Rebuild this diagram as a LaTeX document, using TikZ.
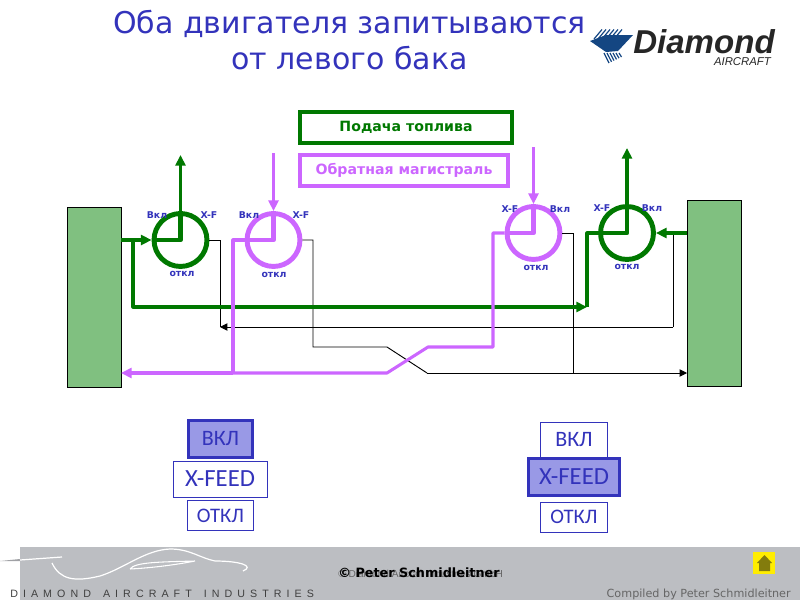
\documentclass[tikz,border=0pt]{standalone}
\usepackage{fontspec}
\setmainfont{DejaVu Sans}
\newfontfamily\carlito{Carlito}
\newfontfamily\logofont{Liberation Sans}
\newfontfamily\brandfont[LetterSpace=47.5]{Liberation Sans}
\usetikzlibrary{arrows.meta}
\definecolor{fuelgreen}{RGB}{0,120,0}
\definecolor{returnviolet}{RGB}{204,102,255}
\definecolor{titleblue}{RGB}{51,51,187}
\definecolor{tankgreen}{RGB}{128,192,128}
\definecolor{activeblue}{RGB}{153,153,230}
\definecolor{footgray}{RGB}{188,190,194}
\definecolor{logoblue}{RGB}{20,70,130}
\tikzset{
    fuelline/.style={draw=fuelgreen, line width=2.3pt, line join=round},
    fuelcore/.style={draw=fuelgreen, line width=3.6pt, line join=round},
    returnline/.style={draw=returnviolet, line width=2.3pt, line join=round},
    returncore/.style={draw=returnviolet, line width=3.6pt, line join=round},
    senseline/.style={draw=black, line width=0.7pt},
    tank/.style={draw=black, fill=tankgreen, line width=0.7pt, minimum width=40.5pt, inner sep=0pt},
    valve/.style={circle, line width=3.7pt, minimum size=39.7pt, inner sep=0pt},
    valvetext/.style={font=\bfseries\fontsize{7}{8}\selectfont, text=titleblue, inner sep=0pt},
    legend/.style={line width=3.2pt, font=\bfseries\fontsize{10.6}{12}\selectfont, inner sep=0pt, minimum height=23pt},
    switchbox/.style={draw=titleblue, line width=0.6pt, fill=white, font=\carlito\fontsize{16.5}{18}\selectfont, text=titleblue, inner sep=0pt},
    switchon/.style={line width=2.4pt, fill=activeblue},
    tip/.style={-{Triangle[length=8pt,width=7.5pt]}},
    thintip/.style={-{Triangle[length=5.5pt,width=5.5pt]}}
}
\begin{document}
\begin{tikzpicture}[x=0.75pt, y=-0.75pt]
    \useasboundingbox (0, 0) rectangle (800, 600);
    % Title and logo:
    \node[text=titleblue, font=\fontsize{22.5}{27.5}\selectfont, align=center] (title) at (349.5, 40) {Оба двигателя запитываются\\от левого бака};
    \fill[logoblue] (590, 41) -- (606, 35) -- (633, 35) -- (618, 51) -- (606, 52) -- cycle;
    \foreach \i in {0, 1, 2, 3, 4, 5} {
        \draw[logoblue, line width=0.9pt] (594+\i*4, 39) -- (602+\i*4, 29.5);
        \draw[logoblue, line width=0.9pt] (604+\i*3, 53) -- (609+\i*2.5, 63-\i*1.2);
    }
    \node[anchor=west, inner sep=0pt, font=\logofont\bfseries\itshape\fontsize{24.8}{26}\selectfont, text=black!85] (logomain) at (633, 42) {Diamond};
    \node[anchor=east, inner sep=0pt, font=\logofont\itshape\fontsize{8.5}{9}\selectfont, text=black!85] (logosub) at (771, 61.5) {AIRCRAFT};
    % Legend:
    \node[legend, draw=fuelgreen, text=fuelgreen, minimum width=159pt] (supply) at (406, 127.5) {Подача топлива};
    \node[legend, draw=returnviolet, text=returnviolet, minimum width=156pt] (return) at (404, 170.5) {Обратная магистраль};
    % Tanks:
    \node[tank, minimum height=135pt] (lefttank) at (94, 297) {};
    \node[tank, minimum height=140pt] (righttank) at (714, 293.5) {};
    % Free ends and corners:
    \coordinate (feedA) at (121, 240);
    \coordinate (teeA) at (133, 240);
    \coordinate (feedD) at (687, 233);
    \coordinate (crossfeed) at (587, 307);
    \coordinate (outA) at (180.5, 155);
    \coordinate (outD) at (627, 148);
    \coordinate (inB) at (273.5, 153);
    \coordinate (inC) at (533.5, 147);
    \coordinate (teeB) at (233, 373);
    \coordinate (retleft) at (121, 373);
    \coordinate (retright) at (687, 373);
    % Valves:
    \node[valve, draw=fuelgreen] (valveA) at (180.5, 240) {};
    \node[valve, draw=returnviolet] (valveB) at (273.5, 240) {};
    \node[valve, draw=returnviolet] (valveC) at (533.5, 233) {};
    \node[valve, draw=fuelgreen] (valveD) at (627, 233) {};
    % Lines back to the tanks:
    \draw[senseline] (valveA.east) -- (220, 240) -- (220, 327);
    \draw[senseline] (673, 233) -- (673, 327);
    \draw[senseline, thintip] (673, 327) -- (220, 327);
    \draw[senseline] (valveB.east) -- (313, 240) -- (313, 347) -- (387, 347) -- (427, 373);
    \draw[senseline, thintip] (427, 373) -- (retright);
    \draw[senseline] (valveC.east) -- (573, 233) -- (573, 373);
    % Fuel supply:
    \draw[fuelline, tip] (feedA) -- (valveA.west);
    \draw[fuelcore] (valveA.west) -- (valveA.center) -- (valveA.north);
    \draw[fuelline, tip] (valveA.north) -- (outA);
    \draw[fuelline, tip] (teeA) |- (crossfeed);
    \draw[fuelline] (crossfeed) |- (valveD.west);
    \draw[fuelcore] (valveD.west) -- (valveD.center) -- (valveD.north);
    \draw[fuelline, tip] (valveD.north) -- (outD);
    \draw[fuelline, tip] (feedD) -- (valveD.east);
    % Return:
    \draw[returnline, tip] (inB) -- (valveB.north);
    \draw[returncore] (valveB.north) -- (valveB.center) -- (valveB.west);
    \draw[returnline] (valveB.west) -| (teeB);
    \draw[returnline, tip] (inC) -- (valveC.north);
    \draw[returncore] (valveC.north) -- (valveC.center) -- (valveC.west);
    \draw[returnline] (valveC.west) -- (493, 233) -- (493, 347) -- (428, 347) -- (387, 373) -- (teeB);
    \draw[returnline, tip] (teeB) -- (retleft);
    % Valve labels:
    \node[valvetext] (onA) at (157, 215) {Вкл};
    \node[valvetext] (xfA) at (209, 215) {X-F};
    \node[valvetext] (offA) at (182, 274) {откл};
    \node[valvetext] (onB) at (249, 215) {Вкл};
    \node[valvetext] (xfB) at (301, 215) {X-F};
    \node[valvetext] (offB) at (274, 275) {откл};
    \node[valvetext] (xfC) at (510, 209) {X-F};
    \node[valvetext] (onC) at (560, 209) {Вкл};
    \node[valvetext] (offC) at (536, 268) {откл};
    \node[valvetext] (xfD) at (602, 208) {X-F};
    \node[valvetext] (onD) at (652, 208) {Вкл};
    \node[valvetext] (offD) at (627, 267) {откл};
    % Switches:
    \node[switchbox, switchon, minimum width=48pt, minimum height=27.5pt] (swAon) at (220.5, 439) {ВКЛ};
    \node[switchbox, minimum width=70.5pt, minimum height=27pt, font=\carlito\fontsize{18.5}{20}\selectfont] (swAx) at (220, 479) {X-FEED};
    \node[switchbox, minimum width=49.5pt, minimum height=22pt, font=\carlito\fontsize{15.5}{18}\selectfont] (swAoff) at (220.5, 515.5) {ОТКЛ};
    \node[switchbox, minimum width=50pt, minimum height=26pt] (swBon) at (574, 440) {ВКЛ};
    \node[switchbox, switchon, minimum width=68pt, minimum height=28pt, font=\carlito\fontsize{18.5}{20}\selectfont] (swBx) at (574, 477) {X-FEED};
    \node[switchbox, minimum width=50pt, minimum height=22.5pt, font=\carlito\fontsize{15.5}{18}\selectfont] (swBoff) at (574, 517) {ОТКЛ};
    % Footer:
    \fill[footgray] (20, 547) rectangle (800, 600);
    \fill[footgray!85!black] (0, 561) -- (20, 559) -- (20, 561) -- cycle;
    \draw[white, line width=0.9pt] (20, 560) -- (62, 557);
    \draw[white, line width=0.9pt] (52, 563) .. controls (60, 580) and (75, 582) .. (100, 576) .. controls (125, 568) and (145, 550) .. (170, 549) .. controls (190, 549) and (200, 558) .. (215, 561) .. controls (240, 561) and (255, 566) .. (243, 571);
    \draw[white, line width=0.8pt] (130, 569) .. controls (135, 562) and (160, 562) .. (195, 561) .. controls (175, 565) and (150, 568) .. (130, 569);
    \node[anchor=west, inner sep=0pt, font=\logofont\fontsize{7.6}{9}\selectfont, text=black!60] (copyB) at (338, 574) {© Diamond Aircraft Industries GmbH};
    \node[anchor=west, inner sep=0pt, font=\bfseries\fontsize{9.6}{11}\selectfont] (copyA) at (338, 573) {© Peter Schmidleitner};
    \node[anchor=west, inner sep=0pt, font=\brandfont\fontsize{8}{9}\selectfont, text=black!75] (brand) at (10, 594) {DIAMOND\hspace{9pt}AIRCRAFT\hspace{9pt}INDUSTRIES};
    \node[anchor=east, inner sep=0pt, font=\fontsize{8.4}{10}\selectfont, text=black!60] (compiled) at (791, 594) {Compiled by Peter Schmidleitner};
    \fill[yellow!95!orange] (753, 552) rectangle (775, 574);
    \fill[olive!90!black] (757, 563) -- (764.5, 555) -- (772, 563) -- (770, 563) -- (770, 571) -- (759, 571) -- (759, 563) -- cycle;
\end{tikzpicture}
\end{document}
